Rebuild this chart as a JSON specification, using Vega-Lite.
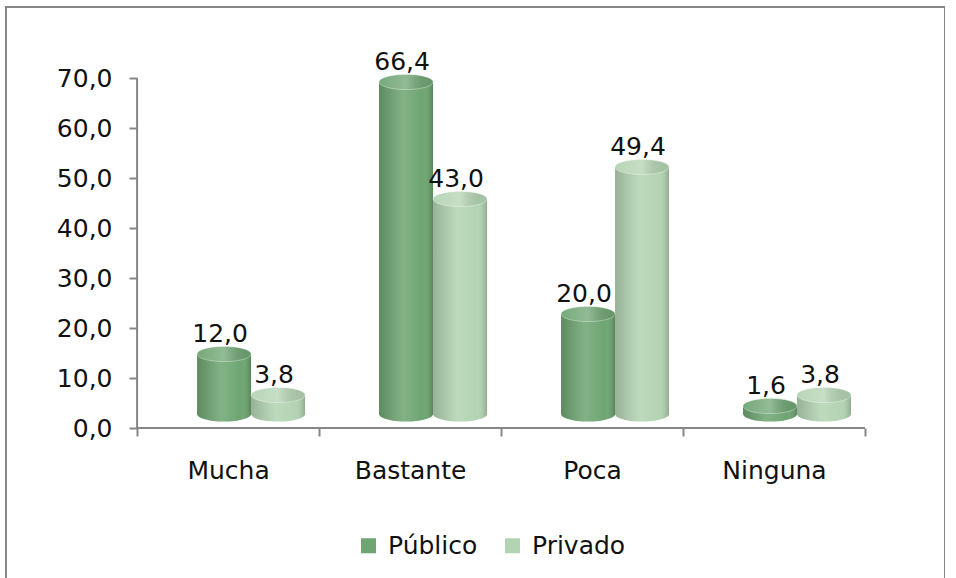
{
  "$schema": "https://vega.github.io/schema/vega-lite/v6.json",
  "width": 939,
  "height": 600,
  "autosize": {"type": "none"},
  "padding": {"left": 6, "top": 7, "right": 0, "bottom": 0},
  "background": "white",
  "config": {
    "font": "DejaVu Sans",
    "view": {"stroke": "#868686", "strokeWidth": 2},
    "locale": {"number": {"decimal": ",", "thousands": ".", "grouping": [3], "currency": ["", " €"]}}
  },
  "data": {
    "values": [
      {"cat": "Mucha", "serie": "Público", "valor": 12.0},
      {"cat": "Mucha", "serie": "Privado", "valor": 3.8},
      {"cat": "Bastante", "serie": "Público", "valor": 66.4},
      {"cat": "Bastante", "serie": "Privado", "valor": 43.0},
      {"cat": "Poca", "serie": "Público", "valor": 20.0},
      {"cat": "Poca", "serie": "Privado", "valor": 49.4},
      {"cat": "Ninguna", "serie": "Público", "valor": 1.6},
      {"cat": "Ninguna", "serie": "Privado", "valor": 3.8}
    ]
  },
  "layer": [
    {
      "data": {"values": [{}]},
      "mark": {"type": "rule", "stroke": "#868686", "strokeWidth": 2},
      "encoding": {
        "x": {"datum": "Mucha", "bandPosition": 0, "type": "nominal"},
        "y": {"datum": 0, "type": "quantitative"},
        "y2": {"datum": 70}
      }
    },
    {
      "data": {"values": [{}]},
      "mark": {"type": "rule", "stroke": "#868686", "strokeWidth": 2},
      "encoding": {
        "x": {"datum": "Mucha", "bandPosition": 0, "type": "nominal"},
        "x2": {"datum": "Ninguna", "bandPosition": 1},
        "y": {"datum": 0, "type": "quantitative"}
      }
    },
    {
      "mark": {"type": "point", "filled": true, "opacity": 1, "size": 2916, "shape": "M-1,0A1,0.28,0,1,0,1,0A1,0.28,0,1,0,-1,0Z", "yOffset": -14},
      "encoding": {
        "x": {"field": "cat", "type": "nominal", "sort": ["Mucha", "Bastante", "Poca", "Ninguna"]},
        "xOffset": {"field": "serie", "type": "nominal", "sort": ["Público", "Privado"]},
        "y": {"datum": 0, "type": "quantitative"},
        "color": {"field": "serie", "type": "nominal"}
      }
    },
    {
      "mark": {"type": "point", "filled": true, "opacity": 1, "size": 2916, "shape": "M-1,0A1,0.28,0,1,0,1,0A1,0.28,0,1,0,-1,0Z", "yOffset": -14,
        "fill": {"gradient": "linear", "x1": 0, "x2": 1, "y1": 0, "y2": 0,
          "stops": [
            {"offset": 0, "color": "rgba(0,0,0,0.16)"},
            {"offset": 0.45, "color": "rgba(255,255,255,0.14)"},
            {"offset": 0.8, "color": "rgba(255,255,255,0)"},
            {"offset": 1, "color": "rgba(0,0,0,0.2)"}
          ]}},
      "encoding": {
        "x": {"field": "cat", "type": "nominal", "sort": ["Mucha", "Bastante", "Poca", "Ninguna"]},
        "xOffset": {"field": "serie", "type": "nominal", "sort": ["Público", "Privado"]},
        "y": {"datum": 0, "type": "quantitative"}
      }
    },
    {
      "mark": {"type": "bar", "yOffset": -14, "y2Offset": -14},
      "encoding": {
        "x": {
          "field": "cat", "type": "nominal",
          "sort": ["Mucha", "Bastante", "Poca", "Ninguna"],
          "scale": {"paddingInner": 0, "paddingOuter": 0.58, "align": 0.621},
          "axis": {
            "title": null, "orient": "bottom", "offset": -179, "domain": false,
            "ticks": true, "tickBand": "extent", "tickSize": 8, "tickColor": "#868686", "tickWidth": 2,
            "labelAngle": 0, "labelAlign": "center", "labelFontSize": 25, "labelColor": "#111", "labelPadding": 34, "grid": false
          }
        },
        "xOffset": {
          "field": "serie", "type": "nominal", "sort": ["Público", "Privado"],
          "scale": {"paddingInner": 0, "paddingOuter": 0.685, "align": 0.811}
        },
        "y": {
          "field": "valor", "type": "quantitative",
          "scale": {"domain": [-35.8, 84.2], "nice": false, "zero": false},
          "axis": {
            "title": null, "orient": "left", "offset": -131, "domain": false,
            "values": [0, 10, 20, 30, 40, 50, 60, 70], "format": ".1f",
            "ticks": true, "tickSize": 8, "tickColor": "#868686", "tickWidth": 2,
            "labelFontSize": 25, "labelColor": "#111", "labelPadding": 17, "grid": false
          }
        },
        "y2": {"datum": 0},
        "color": {
          "field": "serie", "type": "nominal",
          "scale": {"domain": ["Público", "Privado"], "range": ["#6ea572", "#b3d4b3"]},
          "legend": {
            "title": null, "orient": "none", "legendX": 350, "legendY": 526, "direction": "horizontal",
            "symbolType": "square", "symbolSize": 225, "symbolStrokeWidth": 0,
            "labelFontSize": 25, "labelColor": "#111", "labelOffset": 7, "columnPadding": 22, "padding": 0
          }
        }
      }
    },
    {
      "mark": {
        "type": "bar", "yOffset": -14, "y2Offset": -14,
        "fill": {"gradient": "linear", "x1": 0, "x2": 1, "y1": 0, "y2": 0,
          "stops": [
            {"offset": 0, "color": "rgba(0,0,0,0.16)"},
            {"offset": 0.45, "color": "rgba(255,255,255,0.14)"},
            {"offset": 0.8, "color": "rgba(255,255,255,0)"},
            {"offset": 1, "color": "rgba(0,0,0,0.2)"}
          ]}
      },
      "encoding": {
        "x": {"field": "cat", "type": "nominal", "sort": ["Mucha", "Bastante", "Poca", "Ninguna"]},
        "xOffset": {"field": "serie", "type": "nominal", "sort": ["Público", "Privado"]},
        "y": {"field": "valor", "type": "quantitative"},
        "y2": {"datum": 0}
      }
    },
    {
      "mark": {"type": "point", "filled": true, "opacity": 1, "size": 2916, "shape": "M-1,0A1,0.28,0,1,0,1,0A1,0.28,0,1,0,-1,0Z", "yOffset": -14},
      "encoding": {
        "x": {"field": "cat", "type": "nominal", "sort": ["Mucha", "Bastante", "Poca", "Ninguna"]},
        "xOffset": {"field": "serie", "type": "nominal", "sort": ["Público", "Privado"]},
        "y": {"field": "valor", "type": "quantitative"},
        "color": {"field": "serie", "type": "nominal"}
      }
    },
    {
      "mark": {"type": "point", "filled": true, "opacity": 1, "size": 2916, "shape": "M-1,0A1,0.28,0,1,0,1,0A1,0.28,0,1,0,-1,0Z", "yOffset": -14,
        "fill": {"gradient": "linear", "x1": 0, "x2": 1, "y1": 0, "y2": 0,
          "stops": [
            {"offset": 0, "color": "rgba(255,255,255,0.05)"},
            {"offset": 0.5, "color": "rgba(255,255,255,0.25)"},
            {"offset": 1, "color": "rgba(0,0,0,0.08)"}
          ]},
        "stroke": "rgba(255,255,255,0.35)", "strokeWidth": 1},
      "encoding": {
        "x": {"field": "cat", "type": "nominal", "sort": ["Mucha", "Bastante", "Poca", "Ninguna"]},
        "xOffset": {"field": "serie", "type": "nominal", "sort": ["Público", "Privado"]},
        "y": {"field": "valor", "type": "quantitative"}
      }
    },
    {
      "mark": {"type": "text", "fontSize": 25, "fill": "#111", "baseline": "alphabetic", "align": "center", "yOffset": -26, "dx": -4},
      "encoding": {
        "x": {"field": "cat", "type": "nominal", "sort": ["Mucha", "Bastante", "Poca", "Ninguna"]},
        "xOffset": {"field": "serie", "type": "nominal", "sort": ["Público", "Privado"]},
        "y": {"field": "valor", "type": "quantitative"},
        "text": {"field": "valor", "type": "quantitative", "format": ".1f"}
      }
    }
  ]
}
